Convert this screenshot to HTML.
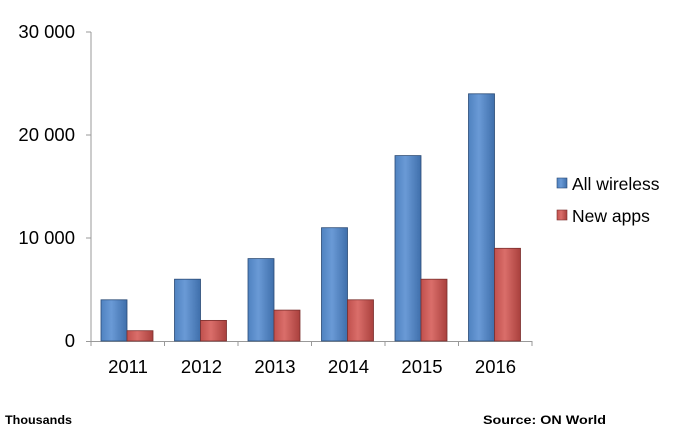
<!DOCTYPE html>
<html><head><style>body{margin:0;background:#fff}</style></head><body>
<svg width="673" height="439" xmlns="http://www.w3.org/2000/svg" font-family="Liberation Sans, sans-serif">
<defs>
<linearGradient id="b" x1="0" x2="1"><stop offset="0" stop-color="#4f82c0"/><stop offset="0.4" stop-color="#6a9ad6"/><stop offset="1" stop-color="#3f6fab"/></linearGradient>
<linearGradient id="r" x1="0" x2="1"><stop offset="0" stop-color="#c0504d"/><stop offset="0.4" stop-color="#da6e6a"/><stop offset="1" stop-color="#a9403d"/></linearGradient>
</defs>
<g stroke="#999" stroke-width="1">
<line x1="91" y1="32" x2="91" y2="346"/>
<line x1="86" y1="341.5" x2="532" y2="341.5"/>
<line x1="86" y1="32" x2="91" y2="32"/><line x1="86" y1="135" x2="91" y2="135"/><line x1="86" y1="238" x2="91" y2="238"/>
<line x1="164.5" y1="341" x2="164.5" y2="346"/><line x1="238" y1="341" x2="238" y2="346"/><line x1="311.5" y1="341" x2="311.5" y2="346"/><line x1="385" y1="341" x2="385" y2="346"/><line x1="458.5" y1="341" x2="458.5" y2="346"/><line x1="532" y1="341" x2="532" y2="346"/>
</g>
<g font-size="18.5" fill="#000" text-anchor="end">
<text x="75" y="38">30 000</text><text x="75" y="141">20 000</text><text x="75" y="244">10 000</text><text x="75" y="347">0</text>
</g>
<g stroke="#2a4a75" stroke-width="0.8">
<rect x="101" y="299.8" width="26" height="41.2" fill="url(#b)"/>
<rect x="174.5" y="279.2" width="26" height="61.8" fill="url(#b)"/>
<rect x="248" y="258.6" width="26" height="82.4" fill="url(#b)"/>
<rect x="321.5" y="227.7" width="26" height="113.3" fill="url(#b)"/>
<rect x="395" y="155.6" width="26" height="185.4" fill="url(#b)"/>
<rect x="468.5" y="93.8" width="26" height="247.2" fill="url(#b)"/>
</g>
<g stroke="#7a2f2d" stroke-width="0.8">
<rect x="127" y="330.7" width="26" height="10.3" fill="url(#r)"/>
<rect x="200.5" y="320.4" width="26" height="20.6" fill="url(#r)"/>
<rect x="274" y="310.1" width="26" height="30.9" fill="url(#r)"/>
<rect x="347.5" y="299.8" width="26" height="41.2" fill="url(#r)"/>
<rect x="421" y="279.2" width="26" height="61.8" fill="url(#r)"/>
<rect x="494.5" y="248.3" width="26" height="92.7" fill="url(#r)"/>
</g>
<g font-size="18.5" text-anchor="middle">
<text x="128" y="373">2011</text><text x="201.5" y="373">2012</text><text x="275" y="373">2013</text><text x="348.5" y="373">2014</text><text x="422" y="373">2015</text><text x="495.5" y="373">2016</text>
</g>
<rect x="557" y="178" width="10" height="10" fill="url(#b)" stroke="#2a4a75" stroke-width="0.6"/>
<text x="572" y="190" font-size="17.5">All wireless</text>
<rect x="557" y="210" width="10" height="10" fill="url(#r)" stroke="#7a2f2d" stroke-width="0.6"/>
<text x="572" y="222" font-size="17.5">New apps</text>
<text x="5" y="424" font-size="12" font-weight="bold" textLength="67" lengthAdjust="spacingAndGlyphs">Thousands</text>
<text x="483" y="424" font-size="12" font-weight="bold" textLength="123" lengthAdjust="spacingAndGlyphs">Source: ON World</text>
</svg>
</body></html>
